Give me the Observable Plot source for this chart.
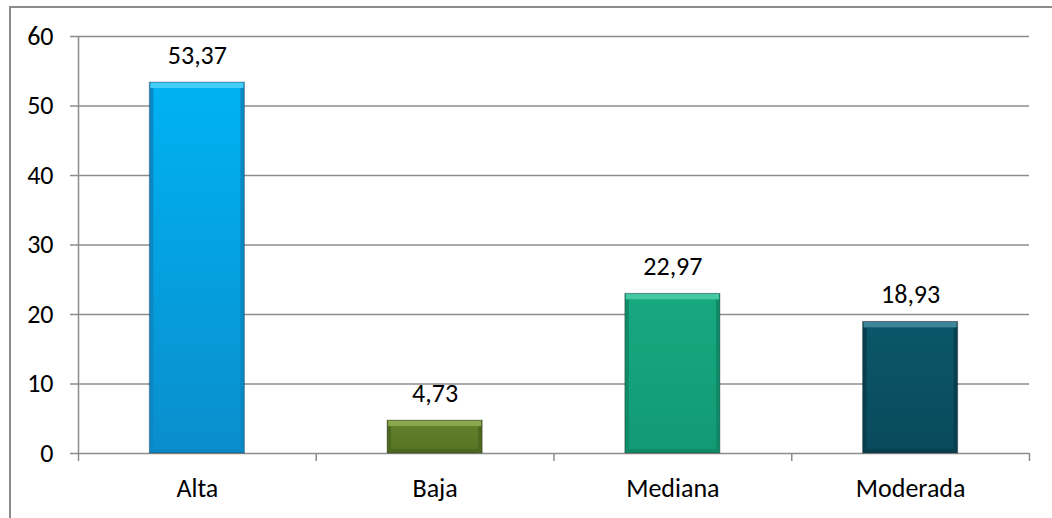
<!DOCTYPE html>
<html>
<head>
<meta charset="utf-8">
<script src="https://cdn.jsdelivr.net/npm/d3@7"></script>
<script src="https://cdn.jsdelivr.net/npm/@observablehq/plot@0.6"></script>
<style>
  html, body { margin: 0; padding: 0; background: #fff; }
  #wrap { position: relative; width: 1052px; height: 518px; overflow: hidden; }
  #border { position: absolute; left: 9px; top: 6px; width: 1100px; height: 600px;
            border-left: 2px solid #8c8c8c; border-top: 2px solid #8c8c8c; box-sizing: border-box; pointer-events: none; }
  svg { display: block; }
</style>
</head>
<body>
<div id="wrap"><div id="chart"></div><div id="border"></div></div>
<script>
const categories = ["Alta", "Baja", "Mediana", "Moderada"];
const values = [53.37, 4.73, 22.97, 18.93];
const yTicks = [0, 10, 20, 30, 40, 50, 60];
const gradIds = ["gA", "gB", "gC", "gD"];
// [top, bottom] of main face, side edge, top bevel
const mainTop = ["#00b2f2", "#627f2b", "#17a880", "#0b5669"];
const mainBottom = ["#0a8ecd", "#587425", "#129a75", "#094b5c"];
const edgeColors = ["#0a88c4", "#4d6620", "#0f8a68", "#073f4e"];
const bevelColors = ["#45cdf8", "#8ba74d", "#45c9a2", "#3d8599"];

const data = categories.map((c, i) => ({ cat: c, i, value: values[i], grad: gradIds[i], edge: edgeColors[i], bevel: bevelColors[i] }));
const fmt = v => v.toFixed(2).replace(".", ",");
const font = "Carlito, Lato, 'Open Sans', sans-serif";
const bx1 = d => d.i + 0.3, bx2 = d => d.i + 0.7;

const chart = Plot.plot({
  width: 1052,
  height: 518,
  marginLeft: 78,
  marginRight: 23,
  marginTop: 36,
  marginBottom: 65,
  style: { fontFamily: font, fontSize: "26px", color: "#000", background: "transparent" },
  x: { type: "linear", domain: [0, categories.length] },
  y: { domain: [0, 60] },
  marks: [
    Plot.ruleY(yTicks, { stroke: "#8c8c8c", strokeWidth: 1.5 }),
    Plot.ruleX([0], { y1: 0, y2: 60, stroke: "#8c8c8c", strokeWidth: 1.5 }),
    Plot.axisY({ ticks: yTicks, tickSize: 8, tickPadding: 17, stroke: "#8c8c8c", strokeWidth: 1.5, fill: "#000", fontSize: 26, label: null }),
    Plot.axisX({ ticks: d3.range(categories.length + 1), tickSize: 8, tickFormat: () => "", stroke: "#8c8c8c", strokeWidth: 1.5, label: null }),
    Plot.axisX({ ticks: categories.map((c, i) => i + 0.5), tickSize: 0, tickPadding: 25, tickFormat: v => categories[Math.floor(v)], fill: "#000", fontSize: 26, label: null }),
    // bar body (side edges)
    Plot.rectY(data, { x1: bx1, x2: bx2, y1: 0, y2: "value", fill: "edge", stroke: "#222", strokeOpacity: 0.35, strokeWidth: 1 }),
    // main face
    Plot.rectY(data, { x1: bx1, x2: bx2, y1: 0, y2: "value", fill: d => `url(#${d.grad})`, insetLeft: 4, insetRight: 4, insetTop: 6, insetBottom: 4 }),
    // top bevel
    Plot.rectY(data, { x1: bx1, x2: bx2, y1: "value", y2: "value", fill: "bevel", insetLeft: 1, insetRight: 1, insetTop: 0.5, insetBottom: -6 }),
    Plot.text(data, { x: d => d.i + 0.5, y: "value", text: d => fmt(d.value), dy: -27, fontSize: 26, fill: "#000", lineAnchor: "middle" })
  ]
});

const defs = d3.select(chart).insert("defs", ":first-child");
gradIds.forEach((id, k) => {
  const g = defs.append("linearGradient").attr("id", id).attr("x1", 0).attr("y1", 0).attr("x2", 0).attr("y2", 1);
  g.append("stop").attr("offset", "0%").attr("stop-color", mainTop[k]);
  g.append("stop").attr("offset", "100%").attr("stop-color", mainBottom[k]);
});

document.getElementById("chart").appendChild(chart);
</script>
</body>
</html>
